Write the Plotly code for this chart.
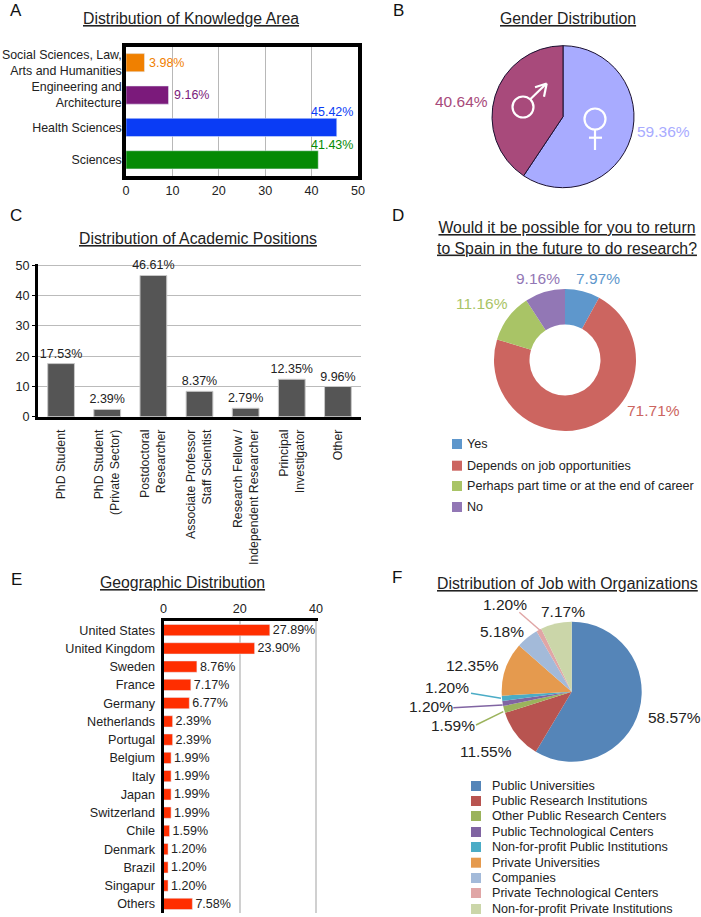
import plotly.graph_objects as go

W, H = 701, 917
FONT = "Liberation Sans"
INK = "#222222"

# A - knowledge area (bottom to top)
area_names = ["Sciences", "Health Sciences", "Engineering and<br>Architecture",
              "Social Sciences, Law,<br>Arts and Humanities"]
area_values = [41.43, 45.42, 9.16, 3.98]
area_labels = ["41.43%", "45.42%", "9.16%", "3.98%"]
area_colors = ["#058A05", "#0A3CF5", "#7B1A7B", "#F08000"]
area_xshift = [-9, -28, 3, 3]
area_yshift = [15, 15, 0, 0]

# B - gender
gender_names = ["Female", "Male"]
gender_values = [59.36, 40.64]
gender_colors = ["#A8ABFF", "#A84A7B"]

# C - academic positions
position_names = ["PhD Student", "PhD Student<br>(Private Sector)", "Postdoctoral<br>Researcher",
                  "Associate Professor<br>Staff Scientist", "Research Fellow /<br>Independent Researcher",
                  "Principal<br>Investigator", "Other"]
position_values = [17.53, 2.39, 46.61, 8.37, 2.79, 12.35, 9.96]
position_labels = ["17.53%", "2.39%", "46.61%", "8.37%", "2.79%", "12.35%", "9.96%"]

# D - return to Spain
return_names = ["Yes", "Depends on job opportunities", "Perhaps part time or at the end of career", "No"]
return_values = [7.97, 71.71, 11.16, 9.16]
return_labels = ["7.97%", "71.71%", "11.16%", "9.16%"]
return_colors = ["#5E97CC", "#CC6560", "#A9C466", "#9277B5"]

# E - geography
country_names = ["United States", "United Kingdom", "Sweden", "France", "Germany", "Netherlands",
                 "Portugal", "Belgium", "Italy", "Japan", "Switzerland", "Chile", "Denmark",
                 "Brazil", "Singapur", "Others"]
country_values = [27.89, 23.90, 8.76, 7.17, 6.77, 2.39, 2.39, 1.99, 1.99, 1.99, 1.99, 1.59,
                  1.20, 1.20, 1.20, 7.58]
country_labels = ["27.89%", "23.90%", "8.76%", "7.17%", "6.77%", "2.39%", "2.39%", "1.99%", "1.99%",
                  "1.99%", "1.99%", "1.59%", "1.20%", "1.20%", "1.20%", "7.58%"]

# F - organizations
org_names = ["Public Universities", "Public Research Institutions", "Other Public Research Centers",
             "Public Technological Centers", "Non-for-profit Public Institutions", "Private Universities",
             "Companies", "Private Technological Centers", "Non-for-profit Private Institutions"]
org_values = [58.57, 11.55, 1.59, 1.20, 1.20, 12.35, 5.18, 1.20, 7.17]
org_labels = ["58.57%", "11.55%", "1.59%", "1.20%", "1.20%", "12.35%", "5.18%", "1.20%", "7.17%"]
org_colors = ["#5585B8", "#B85450", "#9BB35C", "#8064A2", "#4BACC6", "#E59A4E", "#A3BAD9", "#E0A6A6", "#CBD6A9"]


def fx(px):
    return px / W


def fy(py):
    return 1 - py / H


def label(x, y, text, size=12, color=INK, anchor="center", family=FONT):
    fig.add_annotation(x=fx(x), y=fy(y), xref="paper", yref="paper", text=text, showarrow=False,
                       xanchor=anchor, yanchor="middle", font=dict(size=size, color=color, family=family))


def line(x0, y0, x1, y1, color, width=1.5):
    fig.add_shape(type="line", xref="paper", yref="paper", x0=fx(x0), y0=fy(y0), x1=fx(x1), y1=fy(y1),
                  line=dict(color=color, width=width))


def ring(cx, cy, r):
    fig.add_shape(type="circle", xref="paper", yref="paper", x0=fx(cx - r), x1=fx(cx + r), y0=fy(cy + r), y1=fy(cy - r),
                  line=dict(color="white", width=2.2))


def square(x, y, color):
    fig.add_shape(type="rect", xref="paper", yref="paper", x0=fx(x), x1=fx(x + 10), y0=fy(y - 5), y1=fy(y + 5),
                  fillcolor=color, line=dict(width=0))


def pie_domain(cx, cy, r):
    return dict(x=[fx(cx - r), fx(cx + r)], y=[fy(cy + r), fy(cy - r)])


fig = go.Figure()

# bars
fig.add_trace(go.Bar(y=area_names, x=area_values, orientation="h", marker=dict(color=area_colors),
                     width=0.56, xaxis="x", yaxis="y", hoverinfo="skip"))
fig.add_trace(go.Bar(x=position_names, y=position_values, marker=dict(color="#555555", line=dict(color="#C8C8C8", width=1)),
                     width=0.58, text=position_labels, textposition="outside", constraintext="none", cliponaxis=False,
                     outsidetextfont=dict(size=12.5, color=INK, family=FONT), xaxis="x2", yaxis="y2", hoverinfo="skip"))
fig.add_trace(go.Bar(y=country_names, x=country_values, orientation="h", marker=dict(color="#FF2E00"),
                     width=0.62, text=country_labels, textposition="outside", constraintext="none", cliponaxis=False,
                     outsidetextfont=dict(size=12.5, color=INK, family=FONT), xaxis="x3", yaxis="y3", hoverinfo="skip"))

# pies
fig.add_trace(go.Pie(labels=gender_names, values=gender_values, sort=False, direction="clockwise", rotation=0,
                     marker=dict(colors=gender_colors, line=dict(color="#1A1030", width=1)),
                     textinfo="none", domain=pie_domain(563, 116.7, 71), hoverinfo="skip"))
fig.add_trace(go.Pie(labels=return_names, values=return_values, sort=False, direction="clockwise", rotation=0, hole=0.5,
                     marker=dict(colors=return_colors, line=dict(width=0)), textinfo="none",
                     domain=pie_domain(565, 360, 71), hoverinfo="skip"))
fig.add_trace(go.Pie(labels=org_names, values=org_values, sort=False, direction="clockwise", rotation=0,
                     marker=dict(colors=org_colors, line=dict(width=0)), textinfo="none",
                     domain=pie_domain(571.7, 691.7, 70), hoverinfo="skip"))

tick_font = dict(size=12.6, color=INK, family=FONT)
# C and E run slightly past their last tick, otherwise plotly drops the gridline there
fig.update_layout(
    width=W, height=H, margin=dict(l=0, r=0, t=0, b=0, autoexpand=False), paper_bgcolor="white", plot_bgcolor="white",
    showlegend=False, font=dict(family=FONT),
    xaxis=dict(domain=[fx(126), fx(358)], range=[0, 50], dtick=10, anchor="y", showgrid=True, gridcolor="#B8B8B8",
               gridwidth=1, zeroline=False, showline=True, mirror=True, linecolor="black", linewidth=3.5,
               tickfont=tick_font, ticks=""),
    yaxis=dict(domain=[fy(176), fy(46.5)], anchor="x", type="category", showgrid=False, zeroline=False, showline=True,
               mirror=True, linecolor="black", linewidth=3.5, tickfont=dict(size=12.4, color=INK, family=FONT), ticks="",
               ticklabelstandoff=-2),
    xaxis2=dict(domain=[fx(38), fx(361)], anchor="y2", type="category", showgrid=False, zeroline=False, showline=True,
                linecolor="black", linewidth=3, tickangle=-90, tickfont=dict(size=12.3, color=INK, family=FONT),
                ticks="outside", ticklen=5, tickcolor="white"),
    yaxis2=dict(domain=[fy(416.7), fy(263.7)], anchor="x2", range=[0, 50.5], dtick=10, showgrid=True, gridcolor="#BBBBBB",
                zeroline=False, showline=True, linecolor="black", linewidth=3, tickfont=tick_font, ticks="outside",
                ticklen=3, tickcolor="black"),
    xaxis3=dict(domain=[fx(163.5), fx(317.5)], anchor="y3", side="top", range=[0, 40.4], dtick=20, showgrid=True,
                gridcolor="#D0D0D0", gridwidth=1.5, zeroline=False, showline=True, linecolor="black", linewidth=3,
                tickfont=tick_font, ticks=""),
    yaxis3=dict(domain=[fy(913), fy(621)], anchor="x3", type="category", range=[15.5, -0.5], showgrid=False, zeroline=False,
                showline=True, linecolor="black", linewidth=3, tickfont=tick_font, ticks="outside", ticklen=3,
                tickcolor="white"),
)

# A value labels
for value, name, text, color, dx, dy in zip(area_values, area_names, area_labels, area_colors, area_xshift, area_yshift):
    fig.add_annotation(x=value, y=name, xref="x", yref="y", text=text, showarrow=False, xanchor="left", xshift=dx, yshift=dy,
                       font=dict(size=12.5, color=color, family=FONT))

# panel letters
for x, y, letter in [(16, 11, "A"), (398, 11, "B"), (16, 216, "C"), (398, 216, "D"), (16, 579, "E"), (397, 577, "F")]:
    label(x, y, letter, size=17, color="#111111")

# titles
for x, y, text in [(191, 18.7, "Distribution of Knowledge Area"), (568, 18.3, "Gender Distribution"),
                   (197.7, 238, "Distribution of Academic Positions"),
                   (566.7, 238, "Would it be possible for you to return<br>to Spain in the future to do research?"),
                   (183, 582, "Geographic Distribution"), (567.5, 583, "Distribution of Job with Organizations")]:
    label(x, y, "<u>" + text.replace("<br>", "</u><br><u>") + "</u>", size=15.8)

# B labels and gender symbols
label(663, 131.7, "59.36%", size=15.5, color=gender_colors[0])
label(461.7, 101.7, "40.64%", size=15.5, color=gender_colors[1])
ring(523, 107, 10.5)
line(530, 99.5, 546, 84, "white", 2.2)
line(535, 87.3, 546.7, 83.5, "white", 2.2)
line(544, 96.7, 546.7, 83.5, "white", 2.2)
ring(595, 119, 10.5)
line(595, 130, 595, 150, "white", 2.2)
line(589, 137.7, 602, 137.7, "white", 2.2)

# D labels and legend
return_pos = [(598, 278), (653, 410), (482, 304), (538, 278)]
for (x, y), text, color in zip(return_pos, return_labels, return_colors):
    label(x, y, text, size=15.5, color=color)
for y, name, color in zip([444, 465.7, 486, 507], return_names, return_colors):
    square(452, y, color)
    label(465, y, name, size=12.6, anchor="left")

# F labels, leader lines and legend
org_pos = [(674, 717.7), (486, 751), (452.7, 725), (430.7, 706.7), (447, 687.7), (472.7, 665.7), (501.7, 631),
           (505, 604), (562.7, 611)]
for (x, y), text in zip(org_pos, org_labels):
    label(x, y, text, size=15.5)
line(476, 725, 503.3, 711.7, org_colors[2])
line(453.3, 707.7, 502.7, 705, org_colors[3])
line(471, 693.3, 501, 698.3, org_colors[4])
line(519.3, 612.3, 541.7, 631.7, org_colors[7])
for y, name, color in zip([786, 801, 816, 832, 847, 862.7, 878, 893, 909], org_names, org_colors):
    square(471, y, color)
    label(489.7, y, name, size=12.6, anchor="left")

# the page's default body margin would push the figure off the window
fig.write_html("out.html", config=dict(displayModeBar=False), post_script="document.body.style.margin='0';")
